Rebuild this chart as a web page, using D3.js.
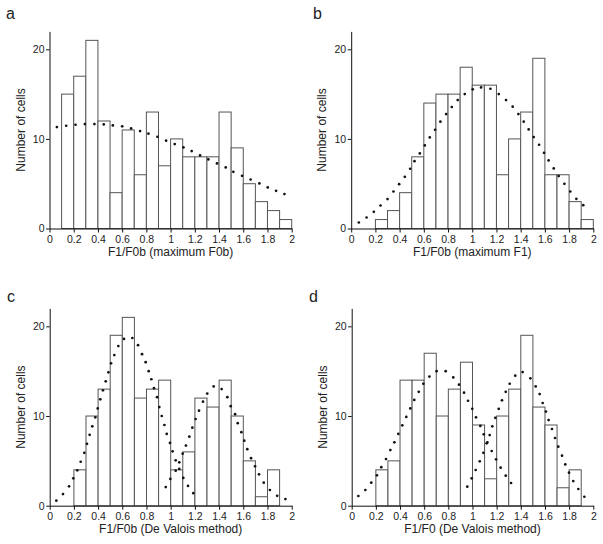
<!DOCTYPE html>
<html>
<head>
<meta charset="utf-8">
<script src="https://cdn.jsdelivr.net/npm/d3@7/dist/d3.min.js"></script>
<style>
  html, body { margin: 0; padding: 0; background: #fff; }
  svg { display: block; }
  text { font-family: "Liberation Sans", Arial, Helvetica, sans-serif; fill: #222; }
</style>
</head>
<body>
<svg id="chart" width="603" height="544"></svg>
<script>
// ---------- data ----------
const binStarts = [0.1,0.2,0.3,0.4,0.5,0.6,0.7,0.8,0.9,1.0,1.1,1.2,1.3,1.4,1.5,1.6,1.7,1.8,1.9];
const binWidth = 0.1;

const countsA = [15,17,21,12,4,11,6,13,7,10,8,8,8,13,9,5,3,2,1];
const countsB = [0,1,2,4,8,14,15,15,18,16,16,6,10,13,19,6,6,3,1];
const countsC = [0,4,10,13,19,21,12,13,14,4,6,12,11,14,10,5,1,4,0];
const countsD = [0,4,5,14,14,17,10,13,16,9,3,10,13,19,11,9,2,4,0];

// fitted curves (dotted)
const fitAx = [0.061,0.138,0.215,0.292,0.371,0.448,0.523,0.600,0.674,0.748,0.817,0.891,0.963,1.034,1.106,1.174,1.243,1.312,1.383,1.455,1.518,1.590,1.661,1.733,1.802,1.871,1.940];
const fitAy = [11.32,11.47,11.58,11.66,11.66,11.62,11.51,11.40,11.17,10.88,10.58,10.24,9.80,9.42,9.05,8.64,8.16,7.71,7.26,6.82,6.33,5.88,5.47,5.03,4.58,4.21,3.84];

const fitBx = [0.063,0.127,0.187,0.242,0.300,0.349,0.396,0.443,0.487,0.523,0.567,0.608,0.649,0.693,0.737,0.784,0.831,0.880,0.938,1.004,1.073,1.150,1.219,1.279,1.334,1.381,1.425,1.466,1.508,1.552,1.593,1.631,1.673,1.714,1.761,1.810,1.860,1.917];
const fitBy = [0.67,1.23,1.86,2.57,3.28,4.13,4.95,5.77,6.67,7.52,8.38,9.27,10.17,11.02,11.92,12.77,13.56,14.34,15.0,15.53,15.75,15.6,15.0,14.34,13.6,12.77,11.92,11.06,10.2,9.35,8.45,7.6,6.7,5.85,4.99,4.13,3.31,2.6];

const fitC1x = [0.055,0.110,0.160,0.195,0.228,0.256,0.286,0.308,0.330,0.352,0.377,0.397,0.418,0.440,0.463,0.485,0.507,0.534,0.567,0.614,0.683,0.730,0.763,0.793,0.818,0.840,0.862,0.887,0.906,0.926,0.948,0.967,0.994,1.016,1.041,1.071,1.104,1.143,1.187];
const fitC1y = [0.56,1.3,2.16,3.05,3.95,4.9,5.9,6.9,7.9,8.85,9.85,10.85,11.86,12.86,13.87,14.87,15.87,16.8,17.8,18.6,18.7,17.9,16.9,16.0,15.0,14.1,13.1,12.1,11.0,10.0,9.0,8.0,7.0,6.06,5.06,4.1,3.1,2.2,1.4];
const fitC2x = [0.959,0.997,1.041,1.071,1.099,1.126,1.154,1.179,1.206,1.234,1.267,1.302,1.355,1.421,1.468,1.496,1.532,1.554,1.584,1.608,1.633,1.664,1.697,1.730,1.769,1.820,1.880,1.948];
const fitC2y = [2.08,2.98,3.9,4.84,5.8,6.7,7.7,8.7,9.67,10.6,11.6,12.5,13.3,13.0,12.1,11.1,10.2,9.2,8.2,7.25,6.3,5.3,4.4,3.5,2.57,1.75,1.1,0.74];

const fitD1x = [0.055,0.113,0.162,0.209,0.245,0.284,0.320,0.353,0.386,0.419,0.452,0.485,0.518,0.555,0.593,0.643,0.703,0.778,0.841,0.888,0.930,0.963,0.998,1.029,1.065,1.093,1.123,1.159,1.195,1.233,1.275,1.319];
const fitD1y = [1.08,1.75,2.57,3.39,4.3,5.2,6.2,7.07,8.0,8.96,9.9,10.85,11.8,12.7,13.6,14.4,15.0,15.0,14.3,13.5,12.6,11.7,10.8,9.85,8.9,7.96,7.07,6.1,5.17,4.24,3.35,2.53];
const fitD2x = [0.957,0.993,1.026,1.060,1.090,1.117,1.142,1.164,1.189,1.217,1.244,1.275,1.308,1.354,1.415,1.479,1.523,1.556,1.581,1.608,1.630,1.658,1.683,1.710,1.741,1.768,1.799,1.834,1.876,1.926];
const fitD2y = [2.12,3.05,3.98,4.95,5.9,6.95,7.88,8.85,9.8,10.8,11.75,12.7,13.6,14.5,14.9,14.2,13.3,12.45,11.45,10.5,9.55,8.55,7.55,6.58,5.58,4.6,3.68,2.75,1.86,1.0];

const xTicks = [0,0.2,0.4,0.6,0.8,1,1.2,1.4,1.6,1.8,2];
const yTicks = [0,10,20];
const xDomain = [0, 2];
const yDomain = [0, 22];

const panelLetters = ["a","b","c","d"];
const xTitles = ["F1/F0b (maximum F0b)","F1/F0b (maximum F1)","F1/F0b (De Valois method)","F1/F0 (De Valois method)"];
const yTitle = "Number of cells";

// ---------- layout ----------
const panels = [
  {letter: panelLetters[0], counts: countsA, fits: [[fitAx, fitAy]], xt: xTitles[0], x0: 49.5, x1: 291.7, y0: 228.5, y1: 31.4, lx: 6, ly: 18.5},
  {letter: panelLetters[1], counts: countsB, fits: [[fitBx, fitBy]], xt: xTitles[1], x0: 351.2, x1: 593.3, y0: 228.5, y1: 31.4, lx: 313, ly: 18.5},
  {letter: panelLetters[2], counts: countsC, fits: [[fitC1x, fitC1y],[fitC2x, fitC2y]], xt: xTitles[2], x0: 49.7, x1: 291.7, y0: 505.7, y1: 308.4, lx: 7, ly: 302},
  {letter: panelLetters[3], counts: countsD, fits: [[fitD1x, fitD1y],[fitD2x, fitD2y]], xt: xTitles[3], x0: 351.7, x1: 593.3, y0: 505.7, y1: 308.4, lx: 309, ly: 302}
];

const svg = d3.select("#chart");
const fmt = d => String(+d.toFixed(1));

panels.forEach(p => {
  const x = d3.scaleLinear().domain(xDomain).range([p.x0, p.x1]);
  const y = d3.scaleLinear().domain(yDomain).range([p.y0, p.y1]);
  const g = svg.append("g");

  // bars
  const bars = binStarts.map((s, i) => ({s, v: p.counts[i]})).filter(d => d.v > 0);
  g.selectAll("rect.bar").data(bars).enter().append("rect")
    .attr("class", "bar")
    .attr("x", d => x(d.s))
    .attr("y", d => y(d.v))
    .attr("width", d => x(d.s + binWidth) - x(d.s))
    .attr("height", d => y(0) - y(d.v))
    .attr("fill", "#fff")
    .attr("stroke", "#555")
    .attr("stroke-width", 1);

  // fitted dots
  p.fits.forEach(([fx, fy]) => {
    g.selectAll(null).data(fx.map((v, i) => [v, fy[i]])).enter().append("circle")
      .attr("cx", d => x(d[0]))
      .attr("cy", d => y(d[1]))
      .attr("r", 1.35)
      .attr("fill", "#111");
  });

  // axes
  const xa = g.append("g").attr("transform", `translate(0,${p.y0})`)
    .call(d3.axisBottom(x).tickValues(xTicks).tickFormat(fmt).tickSize(4).tickPadding(3).tickSizeOuter(0));
  const ya = g.append("g").attr("transform", `translate(${p.x0},0)`)
    .call(d3.axisLeft(y).tickValues(yTicks).tickSize(3.5).tickPadding(1.5).tickSizeOuter(0));
  [xa, ya].forEach(a => {
    a.selectAll("path, line").attr("stroke", "#111").attr("stroke-width", 1);
    a.selectAll("text").attr("font-size", 10.5).attr("fill", "#333")
      .attr("font-family", '"Liberation Sans", Arial, sans-serif');
  });

  // titles
  g.append("text")
    .attr("x", (p.x0 + p.x1) / 2)
    .attr("y", p.y0 + 27)
    .attr("text-anchor", "middle")
    .attr("font-size", 12)
    .attr("fill", "#333")
    .text(p.xt);
  g.append("text")
    .attr("transform", `translate(${p.x0 - 25},${(p.y0 + p.y1) / 2}) rotate(-90)`)
    .attr("text-anchor", "middle")
    .attr("font-size", 12)
    .attr("fill", "#333")
    .text(yTitle);
  g.append("text")
    .attr("x", p.lx)
    .attr("y", p.ly)
    .attr("font-size", 16)
    .text(p.letter);
});
</script>
</body>
</html>
